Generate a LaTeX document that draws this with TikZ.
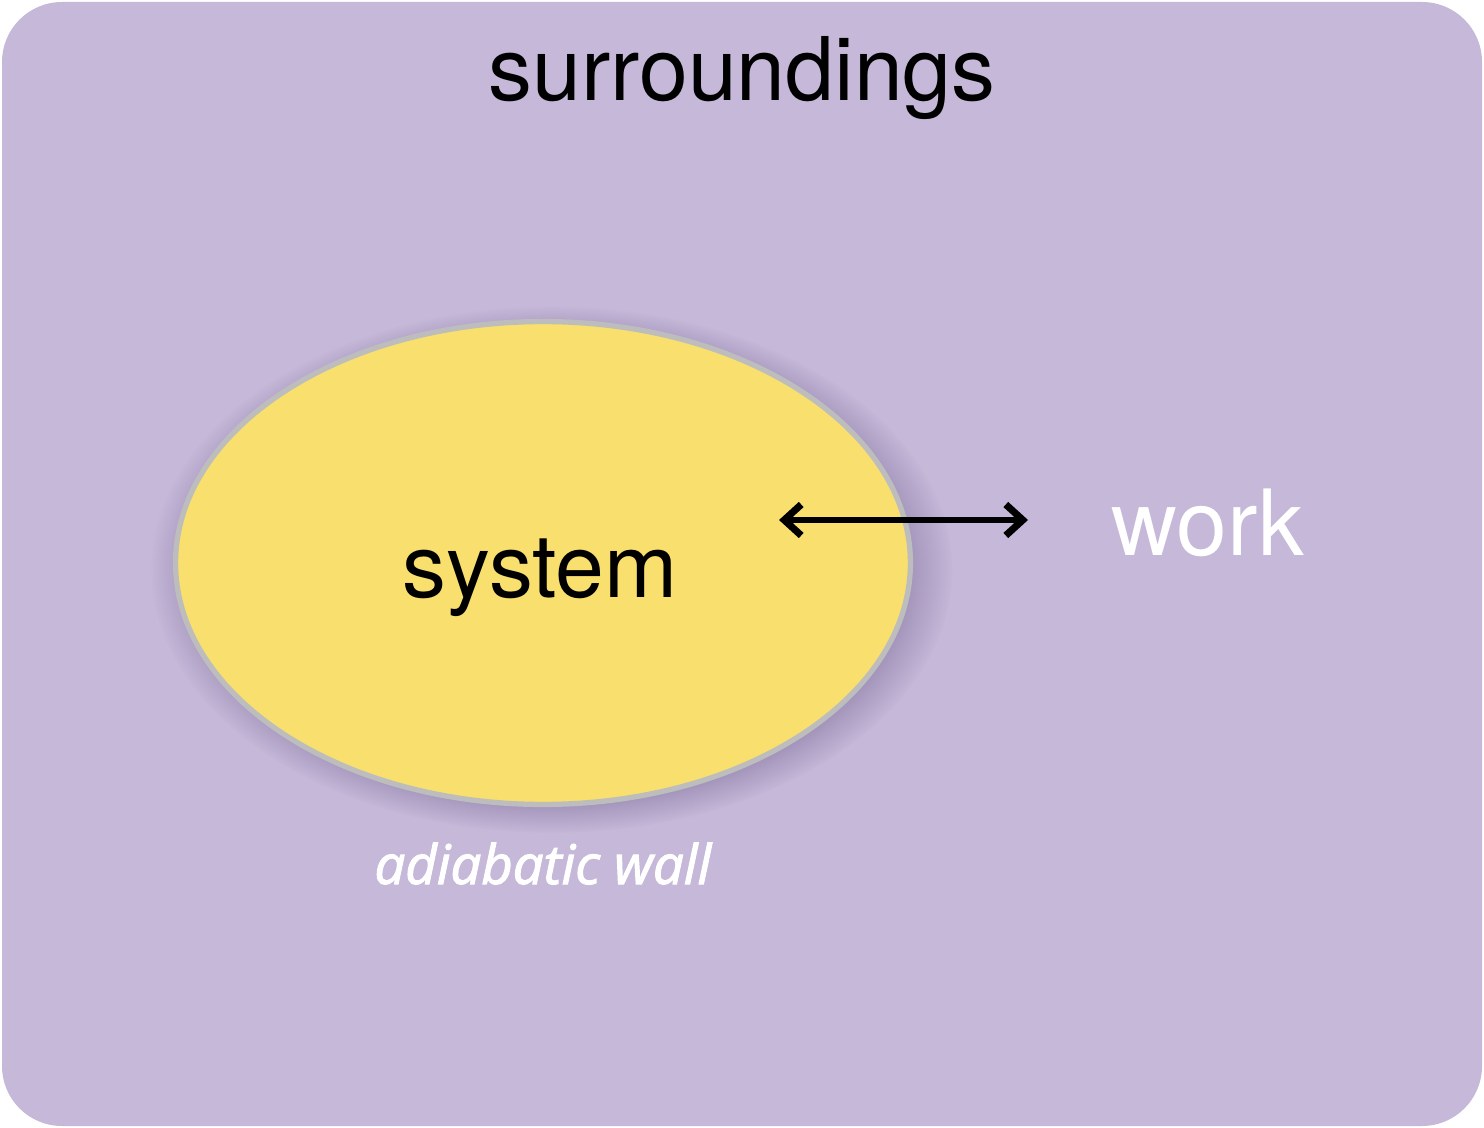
\documentclass[tikz,border=0pt]{standalone}
\usepackage{fontspec}
\setmainfont{TeX Gyre Heros}
\newfontfamily\wallfont[FakeBold=2]{Open Sans}
\usetikzlibrary{shapes.geometric,shadows,arrows.meta}
\definecolor{surround}{HTML}{C5B8D8}
\definecolor{sysyellow}{HTML}{F8DF6E}
\definecolor{wallgray}{HTML}{BDBDBD}
\definecolor{shadowpurple}{HTML}{6E5A8C}

\begin{document}
\begin{tikzpicture}[x=0.02cm, y=-0.02cm]
  \useasboundingbox (0,0) rectangle (1484,1128);
  \fill[surround, rounded corners=1.2cm] (2,2) rectangle (1482,1126);
  \node[ellipse, minimum width=14.7cm, minimum height=9.66cm, inner sep=0pt,
        fill=sysyellow, draw=wallgray, line width=3pt,
        circular drop shadow={shadow xshift=0.16cm, shadow yshift=-0.12cm,
          shadow scale=1.09, fill=shadowpurple, opacity=0.5}]
        (wall) at (543,563) {};
  \node[font=\fontsize{50}{60}\selectfont, anchor=base] (surroundings) at (742,101) {surroundings};
  \node[font=\fontsize{50}{60}\selectfont, anchor=base] (system) at (540,597) {system};
  \node[font=\fontsize{52}{62}\selectfont, anchor=base, text=white] (work) at (1208,555) {work};
  \node[font=\wallfont\itshape\fontsize{31}{38}\selectfont, anchor=base, text=white] (adiabatic) at (543,884) {adiabatic wall};
  \coordinate (workin) at (779,520);
  \coordinate (workout) at (1028,520);
  \draw[line width=3.6pt, {Straight Barb[length=0.34cm, width=0.62cm, line width=4pt]}-{Straight Barb[length=0.34cm, width=0.62cm, line width=4pt]}] (workin) -- (workout);
\end{tikzpicture}
\end{document}
